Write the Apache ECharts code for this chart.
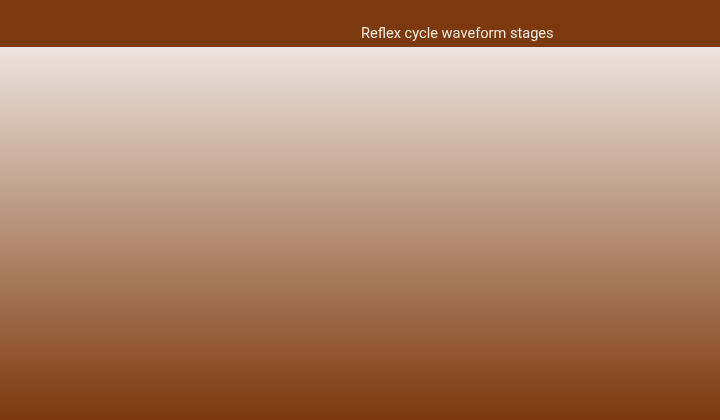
<!DOCTYPE html>
<html>
<head>
<meta charset="utf-8">
<script src="https://cdn.jsdelivr.net/npm/echarts@6/dist/echarts.min.js"></script>
<style>
html,body{margin:0;padding:0;}
#main{width:720px;height:420px;}
</style>
</head>
<body>
<div id="main"></div>
<script>
var titleText = 'Reflex cycle waveform stages';
var headerColor = '#7B390D';
var fadeStops = ['#FBFAF9', '#7B380C'];

var chart = echarts.init(document.getElementById('main'));

var option = {
    backgroundColor: new echarts.graphic.LinearGradient(0, 0, 0, 1, [
        {offset: 0, color: fadeStops[0]},
        {offset: 1, color: fadeStops[1]}
    ]),
    title: {
        text: titleText,
        left: 356,
        top: 22,
        textStyle: {
            color: '#F3EADF',
            fontFamily: 'Roboto',
            fontSize: 14.6,
            fontWeight: 'normal'
        }
    },
    graphic: [
        {
            type: 'rect',
            z: -1,
            shape: {x: 0, y: 0, width: 720, height: 47},
            style: {fill: headerColor}
        }
    ]
};
chart.setOption(option);
</script>
</body>
</html>
